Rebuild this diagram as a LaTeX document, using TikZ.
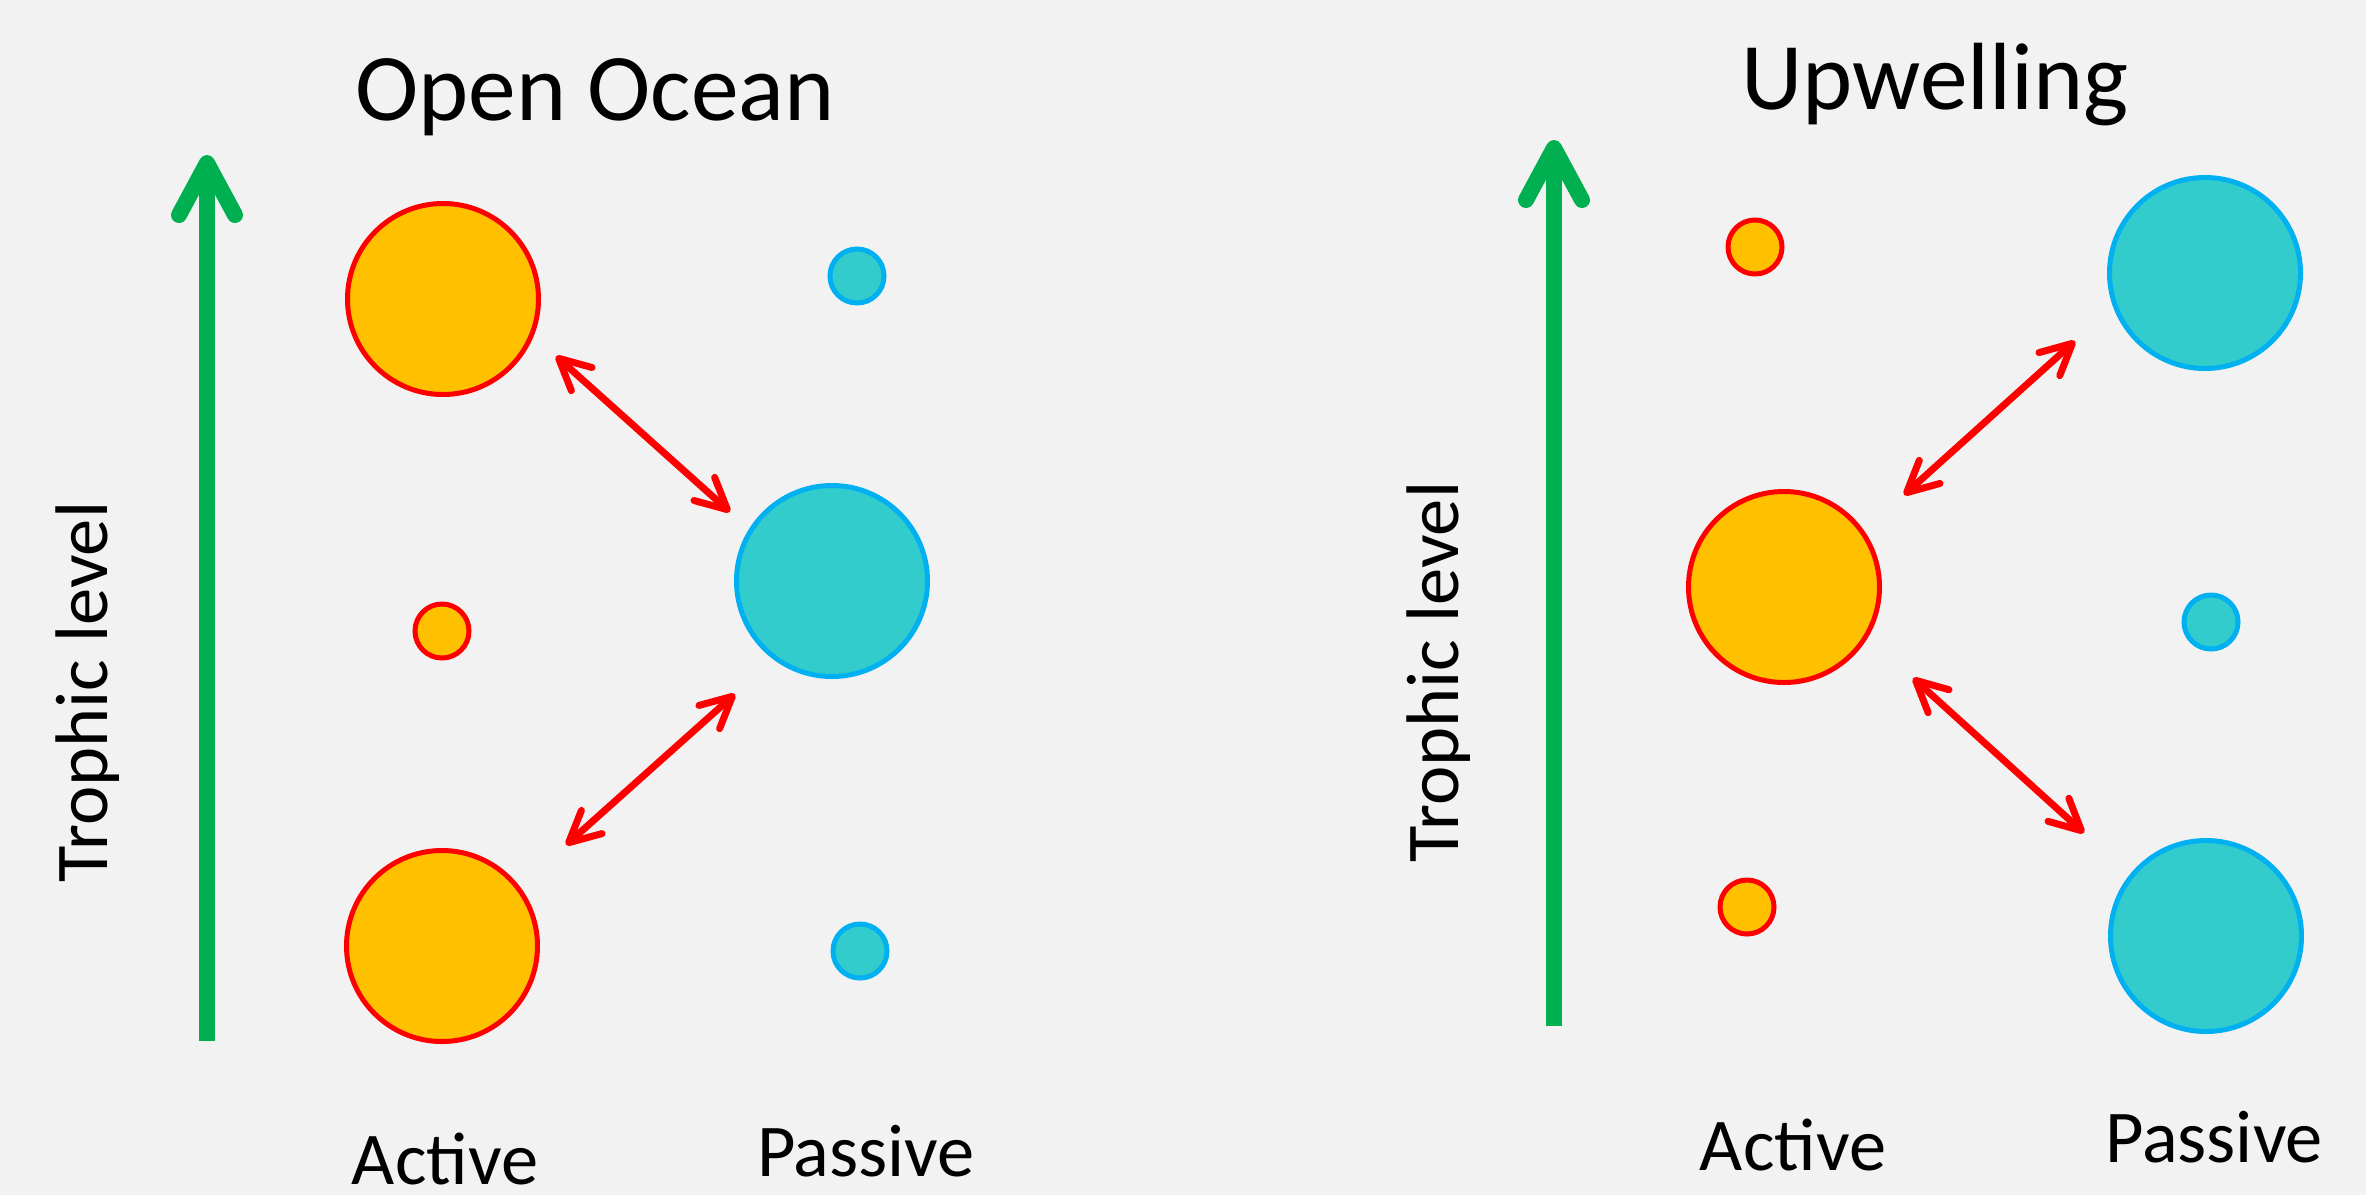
\documentclass[tikz,border=0pt]{standalone}
\usepackage{fontspec}
\setmainfont{Carlito}
\usetikzlibrary{arrows.meta}
\definecolor{bg}{HTML}{F2F2F2}
\definecolor{amber}{HTML}{FFC000}
\definecolor{tealfill}{HTML}{33CCCC}
\definecolor{skyline}{HTML}{00B0F0}
\definecolor{axisgreen}{HTML}{00B050}
\begin{document}
\begin{tikzpicture}[x=1pt,y=-1pt,
  active/.style={circle, draw=red, fill=amber, line width=5pt, inner sep=0pt},
  passive/.style={circle, draw=skyline, fill=tealfill, line width=5pt, inner sep=0pt},
  big/.style={minimum size=191pt},
  small/.style={minimum size=54pt},
  link/.style={draw=red, line width=7pt,
    {Straight Barb[length=31pt,width=31pt,round]}-{Straight Barb[length=31pt,width=31pt,round]}},
  levelaxis/.style={draw=axisgreen, line width=16pt,
    -{Straight Barb[length=52pt,width=56pt,round]}},
  heading/.style={font=\fontsize{95.5}{114}\selectfont, anchor=base, inner sep=0pt},
  caption/.style={font=\fontsize{74.5}{89}\selectfont, anchor=base, inner sep=0pt, text depth=0pt}
]
% canvas
\fill[bg] (0,0) rectangle (2366,1195);
\useasboundingbox (0,0) rectangle (2366,1195);

% ---------- Open ocean ----------
\node[heading] (titleL) at (595,120) {Open Ocean};
\coordinate (axisLbot) at (207,1041);
\coordinate (axisLtop) at (207,155);
\draw[levelaxis] (axisLbot) -- (axisLtop);
\node[caption, rotate=90] (trophL) at (107,692) {Trophic level};

\node[active, big]    (aTopL) at (443,299) {};
\node[active, small]  (aMidL) at (442,631) {};
\node[active, big]    (aBotL) at (442,946) {};
\node[passive, small] (pTopL) at (857,276) {};
\node[passive, big]   (pMidL) at (832,581) {};
\node[passive, small] (pBotL) at (860,951) {};

\coordinate (l1a) at (556,356);
\coordinate (l1b) at (730,512);
\coordinate (l2a) at (735,694);
\coordinate (l2b) at (566,845);
\draw[link] (l1a) -- (l1b);
\draw[link] (l2a) -- (l2b);

\node[caption] (actL) at (445,1184) {Active};
\node[caption] (pasL) at (866,1176) {Passive};

% ---------- Upwelling ----------
\node[heading] (titleR) at (1935,109) {Upwelling};
\coordinate (axisRbot) at (1554,1026);
\coordinate (axisRtop) at (1554,140);
\draw[levelaxis] (axisRbot) -- (axisRtop);
\node[caption, rotate=90] (trophR) at (1458,672) {Trophic level};

\node[active, small]  (aTopR) at (1755,247) {};
\node[active, big]    (aMidR) at (1784,587) {};
\node[active, small]  (aBotR) at (1747,907) {};
\node[passive, big]   (pTopR) at (2205,273) {};
\node[passive, small] (pMidR) at (2211,622) {};
\node[passive, big]   (pBotR) at (2206,936) {};

\coordinate (r1a) at (2075,341);
\coordinate (r1b) at (1904,495);
\coordinate (r2a) at (1913,678);
\coordinate (r2b) at (2084,833);
\draw[link] (r1a) -- (r1b);
\draw[link] (r2a) -- (r2b);

\node[caption] (actR) at (1793,1170) {Active};
\node[caption] (pasR) at (2214,1162) {Passive};
\end{tikzpicture}
\end{document}
